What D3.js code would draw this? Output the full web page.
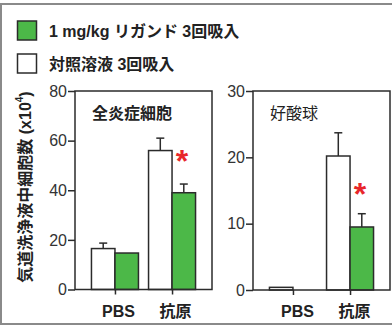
<!DOCTYPE html>
<html>
<head>
<meta charset="utf-8">
<script src="https://cdn.jsdelivr.net/npm/d3@7/dist/d3.min.js"></script>
<style>
  html, body { margin: 0; padding: 0; background: #fff; }
  svg { display: block; }
  text { font-family: "Liberation Sans", Arial, "Noto Sans CJK JP", sans-serif; fill: #222; }
</style>
</head>
<body>
<svg id="chart" width="392" height="327"></svg>
<script>
// Groups on the x axis and the two treatments
const groups = ["PBS", "抗原"];
const legendLabels = ["1 mg/kg リガンド 3回吸入", "対照溶液 3回吸入"];

// Total inflammatory cells in BAL fluid (x10^4)
const totalControl = [16.5, 56];
const totalControlErr = [2.2, 5];
const totalLigand = [14.7, 39];
const totalLigandErr = [0, 3.5];
const totalTicks = [0, 20, 40, 60, 80];

// Eosinophils (x10^4)
const eosControl = [0.4, 20.2];
const eosControlErr = [0, 3.5];
const eosLigand = [0, 9.5];
const eosLigandErr = [0, 2];
const eosTicks = [0, 10, 20, 30];

const GREEN = "#4cb848";
const INK = "#2b2b2b";
const RED = "#e8262a";

const svg = d3.select("#chart");

// outer frame
svg.append("rect")
  .attr("x", 1).attr("y", 4).attr("width", 400).attr("height", 320)
  .attr("fill", "none").attr("stroke", "#8a8a8a").attr("stroke-width", 2);

// legend
const legend = svg.append("g");
const legendFill = [GREEN, "#fff"];
legendLabels.forEach((lab, i) => {
  const y = 21 + i * 33;
  legend.append("rect")
    .attr("x", 17.5).attr("y", y).attr("width", 19).attr("height", 19)
    .attr("fill", legendFill[i]).attr("stroke", INK).attr("stroke-width", 1.5);
  legend.append("text")
    .attr("x", 49).attr("y", y + 10)
    .attr("dominant-baseline", "central")
    .attr("font-size", 16).attr("font-weight", "bold")
    .text(lab);
});

// y axis title
const yTitle = svg.append("text")
  .attr("transform", "translate(25,187) rotate(-90)")
  .attr("text-anchor", "middle")
  .attr("dominant-baseline", "central")
  .attr("font-size", 16).attr("font-weight", "bold");
yTitle.append("tspan").text("気道洗浄液中細胞数 (x10");
yTitle.append("tspan").attr("dy", -6).attr("font-size", 10).text("4");
yTitle.append("tspan").attr("dy", 6).text(")");

function panel(opts) {
  const { left, right, top, bottom, max, ticks, control, controlErr, ligand, ligandErr, title, titleWeight, star, labelShift } = opts;
  const g = svg.append("g");
  const x = d3.scalePoint().domain(groups).range([left, right]).padding(0.7);
  const y = d3.scaleLinear().domain([0, max]).range([bottom, top]);
  const bw = 23.5;

  // bars: control (white) left of tick, ligand (green) right of tick
  const series = [
    { vals: control, errs: controlErr, fill: "#fff", off: -bw },
    { vals: ligand, errs: ligandErr, fill: GREEN, off: 0 }
  ];
  series.forEach(s => {
    groups.forEach((grp, i) => {
      const v = s.vals[i];
      if (v <= 0) return;
      const x0 = x(grp) + s.off;
      g.append("rect")
        .attr("x", x0).attr("y", y(v))
        .attr("width", bw).attr("height", y(0) - y(v))
        .attr("fill", s.fill).attr("stroke", INK).attr("stroke-width", 1.5);
      const e = s.errs[i];
      if (e > 0) {
        const cx = x0 + bw / 2;
        g.append("line")
          .attr("x1", cx).attr("x2", cx).attr("y1", y(v)).attr("y2", y(v + e))
          .attr("stroke", INK).attr("stroke-width", 1.5);
        g.append("line")
          .attr("x1", cx - 4).attr("x2", cx + 4).attr("y1", y(v + e)).attr("y2", y(v + e))
          .attr("stroke", INK).attr("stroke-width", 1.5);
      }
    });
  });

  // plot frame
  g.append("rect")
    .attr("x", left).attr("y", top).attr("width", right - left).attr("height", bottom - top)
    .attr("fill", "none").attr("stroke", INK).attr("stroke-width", 1.5);

  // y axis
  const yAxis = g.append("g").attr("transform", `translate(${left},0)`)
    .call(d3.axisLeft(y).tickValues(ticks).tickSize(7).tickPadding(1).tickFormat(d3.format("d")));
  yAxis.select(".domain").remove();
  yAxis.selectAll(".tick line").attr("stroke", INK).attr("stroke-width", 1.5);
  yAxis.selectAll(".tick text")
    .attr("font-size", 16).attr("font-family", null).style("fill", "#333");

  // x axis
  const xAxis = g.append("g").attr("transform", `translate(0,${bottom})`)
    .call(d3.axisBottom(x).tickSize(5).tickPadding(11));
  xAxis.select(".domain").remove();
  xAxis.selectAll(".tick line").attr("stroke", INK).attr("stroke-width", 1.5);
  xAxis.selectAll(".tick text")
    .attr("font-size", 16).attr("font-weight", "bold").attr("font-family", null)
    .attr("dx", labelShift).style("fill", "#222");

  // panel title
  g.append("text")
    .attr("x", left + 17).attr("y", 113)
    .attr("dominant-baseline", "central")
    .attr("font-size", 16).attr("font-weight", titleWeight)
    .text(title);

  // significance mark
  g.append("text")
    .attr("x", star[0]).attr("y", star[1] + 18)
    .attr("text-anchor", "middle")
    .attr("font-size", 32).attr("font-weight", "bold")
    .style("fill", RED)
    .text("*");
}

panel({
  left: 75, right: 212, top: 91, bottom: 289.5, max: 80, ticks: totalTicks,
  control: totalControl, controlErr: totalControlErr,
  ligand: totalLigand, ligandErr: totalLigandErr,
  title: "全炎症細胞", titleWeight: "bold", star: [182, 154], labelShift: 3
});

panel({
  left: 253, right: 390, top: 91, bottom: 290, max: 30, ticks: eosTicks,
  control: eosControl, controlErr: eosControlErr,
  ligand: eosLigand, ligandErr: eosLigandErr,
  title: "好酸球", titleWeight: "normal", star: [360, 187], labelShift: 4
});
</script>
</body>
</html>
